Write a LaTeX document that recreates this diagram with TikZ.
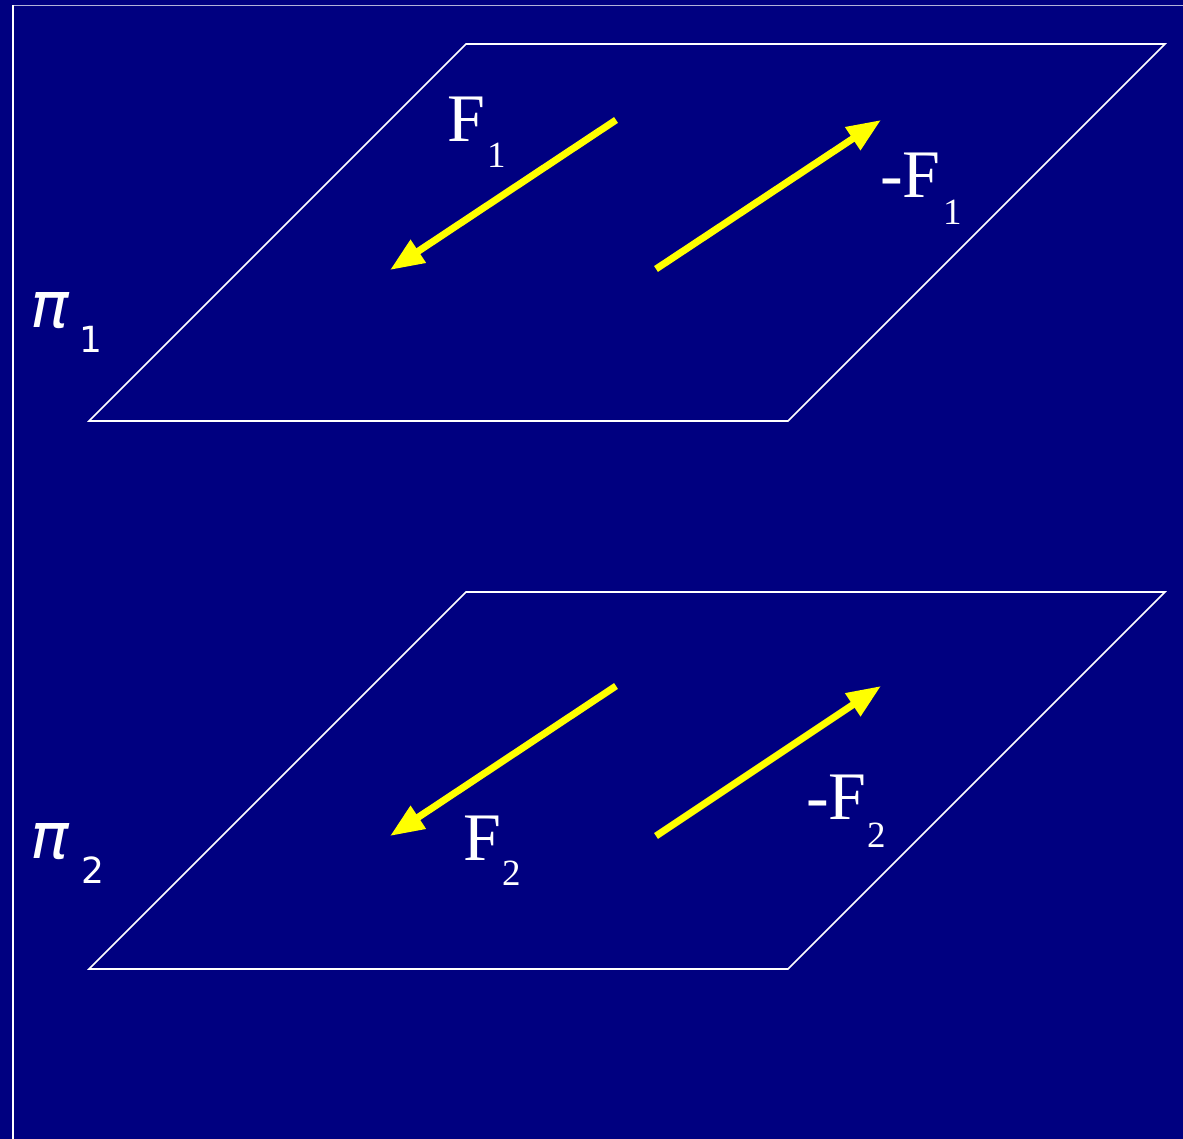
\documentclass[tikz,border=0pt]{standalone}
\usepackage{fontspec}
\setmainfont{Liberation Serif}
\newfontfamily\pisans{DejaVu Sans}
\usetikzlibrary{arrows.meta}
\definecolor{navybg}{RGB}{0,0,128}
\definecolor{force}{RGB}{255,255,0}
\tikzset{
  plane/.style={draw=white, line width=1.6pt},
  frameline/.style={draw=white, line width=2pt},
  topline/.style={draw=white!70!navybg, line width=1.6pt},
  forcearrow/.style={draw=force, line width=7pt, -{Triangle[length=34pt,width=26pt]}},
  flabel/.style={text=white, inner sep=0pt, anchor=base west, font=\fontsize{68}{68}\selectfont},
  fsub/.style={text=white, inner sep=0pt, anchor=base west, font=\fontsize{37}{37}\selectfont},
  pilabel/.style={text=white, inner sep=0pt, anchor=base west, font=\pisans\itshape\fontsize{64}{64}\selectfont},
  pisub/.style={text=white, inner sep=0pt, anchor=base west, font=\pisans\fontsize{36}{36}\selectfont}
}
\begin{document}
\begin{tikzpicture}[x=1pt,y=-1pt]
\fill[navybg] (0,0) rectangle (1183,1139);
\useasboundingbox (0,0) rectangle (1183,1139);
% frame
\coordinate (fTL) at (12.5,5.5);
\coordinate (fTR) at (1183,5.5);
\coordinate (fBL) at (12.5,1139);
\draw[topline] (fTL) -- (fTR);
\draw[frameline] (fTL) -- (fBL);
% plane 1
\coordinate (p1a) at (466,44);
\coordinate (p1b) at (1165,44);
\coordinate (p1c) at (788,421);
\coordinate (p1d) at (89,421);
\draw[plane] (p1a) -- (p1b) -- (p1c) -- (p1d) -- cycle;
% plane 2
\coordinate (p2a) at (466,592);
\coordinate (p2b) at (1165,592);
\coordinate (p2c) at (788,969);
\coordinate (p2d) at (89,969);
\draw[plane] (p2a) -- (p2b) -- (p2c) -- (p2d) -- cycle;
% forces plane 1
\coordinate (f1s) at (616,120);
\coordinate (f1e) at (390,270);
\coordinate (mf1s) at (656,269);
\coordinate (mf1e) at (881,120);
\draw[forcearrow] (f1s) -- (f1e);
\draw[forcearrow] (mf1s) -- (mf1e);
% forces plane 2
\coordinate (f2s) at (616,686);
\coordinate (f2e) at (390,836);
\coordinate (mf2s) at (656,836);
\coordinate (mf2e) at (881,686);
\draw[forcearrow] (f2s) -- (f2e);
\draw[forcearrow] (mf2s) -- (mf2e);
% labels
\node[flabel] (lF1) at (447,142) {F};
\node[fsub] (lF1s) at (487,168) {1};
\node[flabel] (lmF1) at (880,198) {-F};
\node[fsub] (lmF1s) at (943,225) {1};
\node[flabel] (lF2) at (463,860) {F};
\node[fsub] (lF2s) at (502,885) {2};
\node[flabel] (lmF2) at (806,819) {-F};
\node[fsub] (lmF2s) at (867,847) {2};
\node[pilabel] (lpi1) at (30,328) {π};
\node[pisub] (lpi1s) at (79,353) {1};
\node[pilabel] (lpi2) at (30,858) {π};
\node[pisub] (lpi2s) at (81,883) {2};
\end{tikzpicture}
\end{document}
